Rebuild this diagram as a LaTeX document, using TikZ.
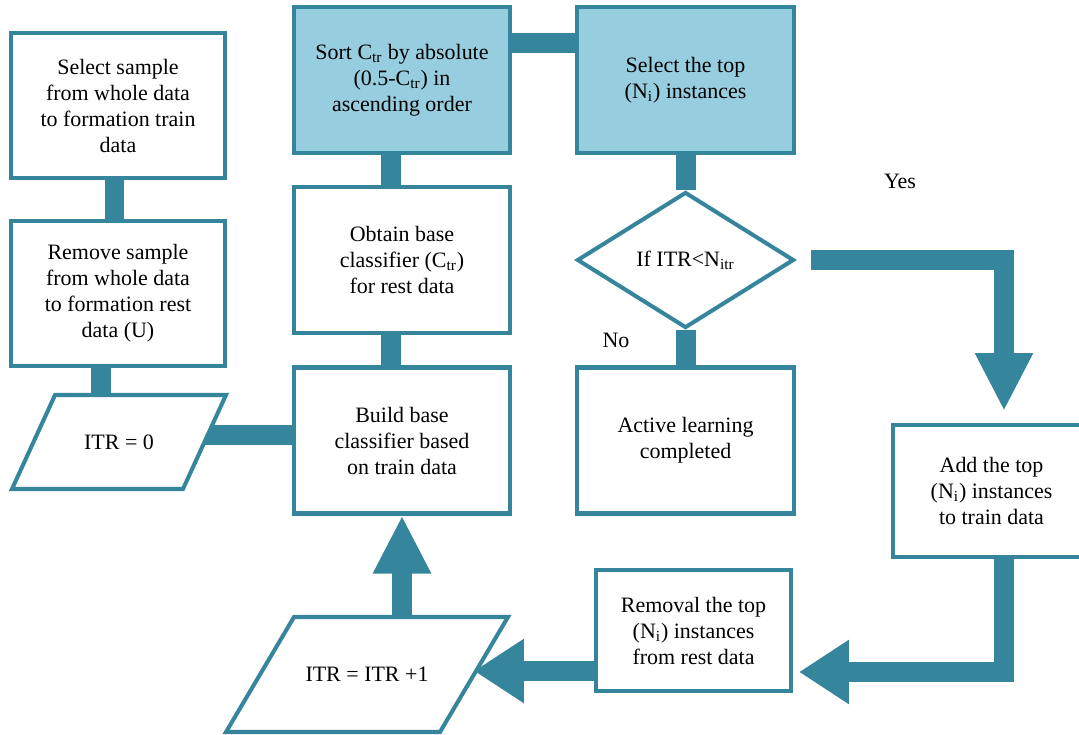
\documentclass[tikz,border=0pt]{standalone}
\usepackage{fontspec}
\setmainfont{Liberation Serif}
\usepackage{xcolor}
\usepackage{tikz}
\usetikzlibrary{shapes.geometric,backgrounds,arrows.meta}

\definecolor{flowteal}{HTML}{35869C}
\definecolor{flowfill}{HTML}{96CDDF}

\begin{document}
\begin{tikzpicture}[x=0.02cm, y=-0.02cm,
    every node/.style={font=\fontsize{12.5}{14.8}\selectfont, align=center},
    box/.style={rectangle, draw=flowteal, line width=2.3pt, fill=white,
      minimum width=4.32cm, minimum height=2.92cm, inner sep=2pt},
    hibox/.style={box, fill=flowfill},
    io/.style={rectangle, inner sep=0pt, outer sep=0pt},
    iobox/.style={draw=flowteal, line width=2.3pt, fill=white},
    test/.style={diamond, draw=flowteal, line width=2.3pt, fill=white,
      minimum width=4.34cm, minimum height=2.72cm, inner sep=0pt},
    link/.style={flowteal, line width=0.4cm},
    flow/.style={link, -{Triangle[width=1.08cm,length=1.16cm]}},
    sideflow/.style={link, -{Triangle[width=1.22cm,length=1cm]}}]
    \useasboundingbox (0,0) rectangle (1079,734);

    \node[box, minimum width=4.28cm, minimum height=2.9cm] (sel) at (118,105.5) {Select sample\\from whole data\\to formation train\\data};
    \node[box, minimum width=4.28cm, minimum height=2.9cm] (rem) at (118,293.5) {Remove sample\\from whole data\\to formation rest\\data (U)};
    \node[io, minimum width=3.42cm, minimum height=1.88cm] (itr0) at (119,442) {ITR = 0};

    \node[hibox] (sort) at (402,80) {Sort C\textsubscript{tr} by absolute\\(0.5-C\textsubscript{tr}) in\\ascending order};
    \node[box] (obt) at (402,260) {Obtain base\\classifier (C\textsubscript{tr})\\for rest data};
    \node[box] (build) at (402,440.5) {Build base\\classifier based\\on train data};

    \node[hibox, minimum width=4.34cm] (top) at (685.5,80) {Select the top\\(N\textsubscript{i}) instances};
    \node[test] (cond) at (685.5,260) {If ITR<N\textsubscript{itr}};
    \node[box, minimum width=4.34cm] (done) at (685.5,440.5) {Active learning\\completed};

    \node[box, minimum width=3.94cm, minimum height=2.64cm] (add) at (991.5,491) {Add the top\\(N\textsubscript{i}) instances\\to train data};
    \node[box, minimum width=3.9cm, minimum height=2.42cm] (rmv) at (693.5,630.5) {Removal the top\\(N\textsubscript{i}) instances\\from rest data};
    \node[io, minimum width=4.28cm, minimum height=2.3cm] (itr1) at (367,674.5) {ITR = ITR +1};

    \node (no) at (616,340) {No};
    \node (yes) at (900,181) {Yes};

    \begin{scope}[on background layer]
      \draw[link] ([xshift=-0.07cm]sel.center) -- ([xshift=-0.07cm]rem.center);
      \draw[link] ([xshift=-0.34cm]rem.center) -- ([xshift=-0.34cm]rem.center |- itr0.center);
      \draw[link] ([yshift=0.14cm]itr0.center) -- ([yshift=0.14cm]itr0.center -| build.center);
      \draw[link] ([xshift=-0.23cm]sort.center) -- ([xshift=-0.23cm]obt.center);
      \draw[link] ([xshift=-0.23cm]obt.center) -- ([xshift=-0.23cm]build.center);
      \draw[link] ([yshift=0.75cm]sort.center) -- ([yshift=0.75cm]top.center);
      \draw[link] (top) -- (cond);
      \draw[link] (cond) -- (done);
      \draw[flow] ([xshift=0.3cm]cond.east) -| ([xshift=0.25cm,yshift=0.24cm]add.north);
      \draw[sideflow] ([xshift=0.25cm]add.south) |- ([xshift=0.12cm,yshift=-0.83cm]rmv.east);
      \draw[sideflow] ([yshift=-0.81cm]rmv.center) -- ([yshift=-0.81cm]rmv.center -| itr1.east);
      \draw[flow] (build.south |- itr1.center) -- (build.south);

      % slanted input boxes
      \draw[iobox] ([xshift=0.43cm]itr0.north west) -- ([xshift=0.43cm]itr0.north east)
        -- ([xshift=-0.43cm]itr0.south east) -- ([xshift=-0.43cm]itr0.south west) -- cycle;
      \draw[iobox] ([xshift=0.68cm]itr1.north west) -- ([xshift=0.68cm]itr1.north east)
        -- ([xshift=-0.68cm]itr1.south east) -- ([xshift=-0.68cm]itr1.south west) -- cycle;
    \end{scope}
\end{tikzpicture}
\end{document}
